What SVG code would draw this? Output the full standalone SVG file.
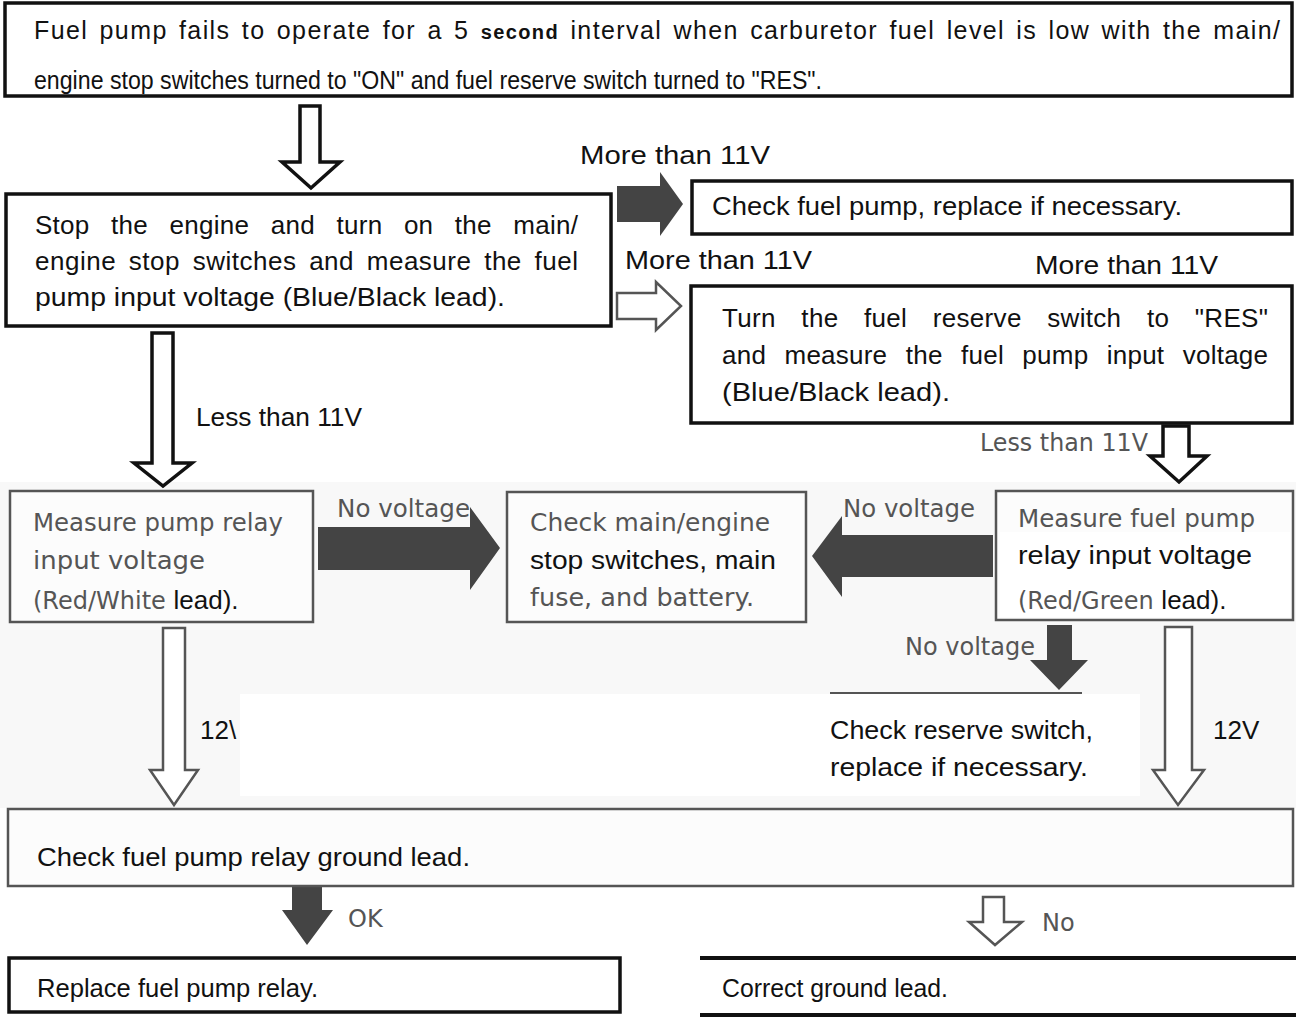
<svg xmlns="http://www.w3.org/2000/svg" width="1296" height="1019" viewBox="0 0 1296 1019">
  <style>
    .t { font-family: "Liberation Sans", Arial, sans-serif; font-size: 26px; fill: #111; }
    .top { font-size: 25px; }
    .g { font-family: "DejaVu Sans", "Noto Sans", sans-serif; font-size: 24px; fill: #555; }
    .box { fill: #fff; stroke: #111; stroke-width: 3.5; }
    .gbox { fill: #fcfcfc; stroke: #555; stroke-width: 2.5; }
    .hollow { fill: #fff; stroke: #111; stroke-width: 3.5; stroke-linejoin: miter; }
    .hollowg { fill: #fff; stroke: #555; stroke-width: 2.5; }
    .solid { fill: #444; stroke: none; }
  </style>

  <rect x="0" y="0" width="1296" height="1019" fill="#fff"/>
  <!-- faint grey paper tone in the relay section -->
  <rect x="0" y="482" width="1296" height="326" fill="#f8f8f8"/>
  <rect x="240" y="694" width="900" height="102" fill="#fff"/>

  <g id="connectors">
    <path class="hollow" d="M300 106 H320 V162 H340 L311 188 L282 162 H300 Z"/>
    <path class="solid" d="M617 186 H660 V172 L683 204 L660 236 V222 H617 Z"/>
    <path class="hollowg" d="M617 293 H656 V282 L681 306 L656 330 V319 H617 Z" stroke-width="3"/>
    <path class="hollow" d="M152 333 H173 V463 H192 L163 486 L134 463 H152 Z"/>
    <path class="hollow" d="M1163 426 H1189 V456 H1207 L1179 482 L1150 456 H1163 Z"/>
    <path class="solid" d="M318 527 H470 V507 L500 548 L470 590 V570 H318 Z"/>
    <path class="solid" d="M993 535 H842 V516 L812 556 L842 597 V577 H993 Z"/>
    <path class="solid" d="M1047 625 H1072 V660 H1088 L1059 690 L1030 660 H1047 Z"/>
    <path class="hollowg" d="M163 628 H185 V770 H198 L174 805 L150 770 H163 Z"/>
    <path class="hollowg" d="M1165 627 H1192 V770 H1204 L1178 805 L1153 770 H1165 Z"/>
    <path class="solid" d="M292 877 H322 V910 H333 L307 945 L282 910 H292 Z"/>
    <path class="hollowg" d="M983 897 H1004 V922 H1022 L995 945 L969 922 H983 Z" stroke="#444"/>

    <text class="t" x="580" y="164" textLength="190" lengthAdjust="spacingAndGlyphs">More than 11V</text>
    <text class="t" x="625" y="269" textLength="187" lengthAdjust="spacingAndGlyphs">More than 11V</text>
    <text class="t" x="1035" y="274" textLength="183" lengthAdjust="spacingAndGlyphs">More than 11V</text>
    <text class="t" x="196" y="426" textLength="166" lengthAdjust="spacingAndGlyphs">Less than 11V</text>
    <text class="g" x="980" y="451" textLength="168" lengthAdjust="spacingAndGlyphs">Less than 11V</text>
    <text class="g" x="337" y="517" textLength="133" lengthAdjust="spacingAndGlyphs">No voltage</text>
    <text class="g" x="843" y="517" textLength="132" lengthAdjust="spacingAndGlyphs">No voltage</text>
    <text class="g" x="905" y="655" textLength="130" lengthAdjust="spacingAndGlyphs">No voltage</text>
    <text class="t" x="200" y="739">12\</text>
    <text class="t" x="1213" y="739">12V</text>
    <text class="g" x="348" y="927">OK</text>
    <text class="g" x="1042" y="931">No</text>
  </g>

  <g id="start">
    <rect class="box" x="5" y="3" width="1287" height="93" stroke-width="4"/>
    <text class="t top" x="34" y="39" word-spacing="3" textLength="1246" lengthAdjust="spacing">Fuel pump fails to operate for a 5 <tspan font-size="20" font-weight="bold">second</tspan> interval when carburetor fuel level is low with the main/</text>
    <text class="t top" x="34" y="89" textLength="788" lengthAdjust="spacingAndGlyphs">engine stop switches turned to "ON" and fuel reserve switch turned to "RES".</text>
  </g>

  <g id="measure-input">
    <rect class="box" x="6" y="194" width="605" height="132"/>
    <text class="t" x="35" y="234" word-spacing="14" textLength="543" lengthAdjust="spacing">Stop the engine and turn on the main/</text>
    <text class="t" x="35" y="270" word-spacing="5" textLength="543" lengthAdjust="spacing">engine stop switches and measure the fuel</text>
    <text class="t" x="35" y="306" textLength="470" lengthAdjust="spacingAndGlyphs">pump input voltage (Blue/Black lead).</text>
  </g>

  <g id="check-pump">
    <rect class="box" x="692" y="181" width="600" height="53"/>
    <text class="t" x="712" y="215" textLength="470" lengthAdjust="spacingAndGlyphs">Check fuel pump, replace if necessary.</text>
  </g>

  <g id="reserve-switch">
    <rect class="box" x="691" y="286" width="601" height="137"/>
    <text class="t" x="722" y="327" word-spacing="18" textLength="546" lengthAdjust="spacing">Turn the fuel reserve switch to "RES"</text>
    <text class="t" x="722" y="364" word-spacing="11" textLength="546" lengthAdjust="spacing">and measure the fuel pump input voltage</text>
    <text class="t" x="722" y="401" textLength="228" lengthAdjust="spacingAndGlyphs">(Blue/Black lead).</text>
  </g>

  <g id="pump-relay">
    <rect class="gbox" x="10" y="491" width="303" height="131"/>
    <text class="g" x="33" y="531" textLength="250" lengthAdjust="spacingAndGlyphs">Measure pump relay</text>
    <text class="g" x="33" y="569" textLength="172" lengthAdjust="spacingAndGlyphs">input voltage</text>
    <text class="g" x="33" y="609" fill="#222">(Red/White <tspan class="t">lead).</tspan></text>
  </g>

  <g id="check-switches">
    <rect class="gbox" x="507" y="492" width="299" height="130"/>
    <text class="g" x="530" y="531" textLength="240" lengthAdjust="spacingAndGlyphs">Check main/engine</text>
    <text class="t" x="530" y="569" textLength="246" lengthAdjust="spacingAndGlyphs">stop switches, main</text>
    <text class="g" x="530" y="606" textLength="224" lengthAdjust="spacingAndGlyphs">fuse, and battery.</text>
  </g>

  <g id="fuel-pump-relay">
    <rect class="gbox" x="996" y="491" width="297" height="129"/>
    <rect x="1000" y="532" width="290" height="85" fill="#fff"/>
    <text class="g" x="1018" y="527" textLength="237" lengthAdjust="spacingAndGlyphs">Measure fuel pump</text>
    <text class="t" x="1018" y="564" textLength="234" lengthAdjust="spacingAndGlyphs">relay input voltage</text>
    <text class="g" x="1018" y="609" fill="#222">(Red/Green <tspan class="t">lead).</tspan></text>
  </g>

  <g id="reserve-check">
    <line x1="830" y1="693" x2="1082" y2="693" stroke="#555" stroke-width="2"/>
    <text class="t" x="830" y="739" textLength="263" lengthAdjust="spacingAndGlyphs">Check reserve switch,</text>
    <text class="t" x="830" y="776" textLength="258" lengthAdjust="spacingAndGlyphs">replace if necessary.</text>
  </g>

  <g id="ground-lead">
    <rect class="gbox" x="8" y="809" width="1285" height="77" fill="#fff"/>
    <text class="t" x="37" y="866" textLength="433" lengthAdjust="spacingAndGlyphs">Check fuel pump relay ground lead.</text>
  </g>

  <g id="replace-relay">
    <rect class="box" x="9" y="958" width="611" height="54" stroke-width="3"/>
    <text class="t" x="37" y="997" textLength="281" lengthAdjust="spacingAndGlyphs">Replace fuel pump relay.</text>
  </g>

  <g id="correct-ground">
    <line x1="700" y1="958" x2="1296" y2="958" stroke="#111" stroke-width="4"/>
    <line x1="700" y1="1015" x2="1296" y2="1015" stroke="#111" stroke-width="4"/>
    <text class="t" x="722" y="997" textLength="226" lengthAdjust="spacingAndGlyphs">Correct ground lead.</text>
  </g>
</svg>
